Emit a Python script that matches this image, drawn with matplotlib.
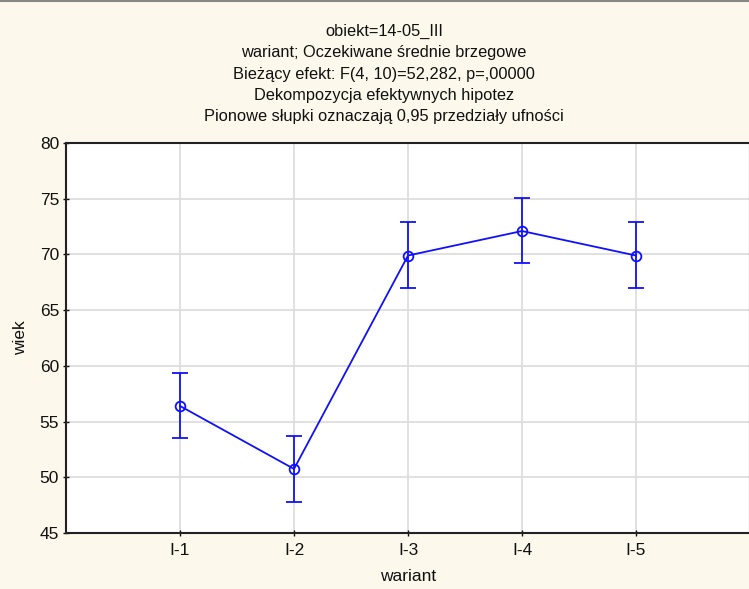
import matplotlib
matplotlib.use("Agg")
import matplotlib.pyplot as plt

# data
warianty = ["I-1", "I-2", "I-3", "I-4", "I-5"]
srednie = [56.4, 50.75, 69.9, 72.1, 69.9]
gorne = [59.4, 53.7, 72.9, 75.1, 72.9]
dolne = [53.5, 47.8, 66.95, 69.2, 66.95]

tytul = [
    "obiekt=14-05_III",
    "wariant; Oczekiwane średnie brzegowe",
    "Bieżący efekt: F(4, 10)=52,282, p=,00000",
    "Dekompozycja efektywnych hipotez",
    "Pionowe słupki oznaczają 0,95 przedziały ufności",
]

plt.rcParams["font.family"] = ["Liberation Sans", "DejaVu Sans"]
tlo = "#fdf8ec"

fig = plt.figure(figsize=(7.49, 5.89), dpi=100, facecolor=tlo)
ax = fig.add_axes([66 / 749, 1 - 533 / 589, 684 / 749, 390 / 589])
ax.set_facecolor("white")

x = list(range(1, len(warianty) + 1))
err_low = [m - d for m, d in zip(srednie, dolne)]
err_high = [g - m for m, g in zip(srednie, gorne)]

ax.errorbar(x, srednie, yerr=[err_low, err_high], color="#1010ff", lw=1.3,
            elinewidth=1.3, capsize=6, capthick=1.3, marker="o", ms=7,
            mfc="none", mec="#1010ff", mew=1.3, zorder=3)

ax.set_xlim(0, 6)
ax.set_ylim(45, 80)
ax.set_xticks(x)
ax.set_xticklabels(warianty)
ax.set_yticks(range(45, 81, 5))
ax.grid(True, color="#dcdcdc", lw=1.2)
ax.set_axisbelow(True)
ax.tick_params(labelsize=12.5, colors="#111111", direction="inout", length=4, width=1)
ax.tick_params(axis="x", pad=5)
ax.tick_params(axis="y", pad=3)
for s in ax.spines.values():
    s.set_color("#222222")
    s.set_linewidth(1.5)

ax.set_xlabel("wariant", fontsize=12.5, color="#111111", labelpad=8)
ax.set_ylabel("wiek", fontsize=12.5, color="#111111", labelpad=8)

for i, t in enumerate(tytul):
    fig.text(384 / 749, 1 - (31 + i * 21.5) / 589, t, ha="center", va="center",
             fontsize=11.8, color="#111111")

fig.add_artist(plt.Line2D([0, 1], [0.999, 0.999], color="#888888", lw=1.5))

fig.savefig("out.png", dpi=100, facecolor=tlo)
